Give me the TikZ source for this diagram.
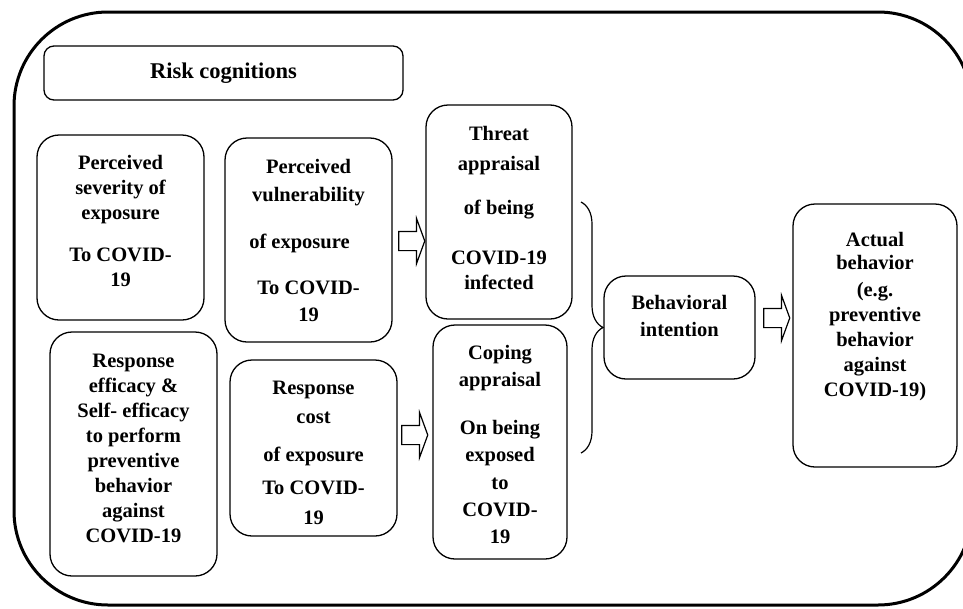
\documentclass[tikz,border=0pt]{standalone}
\usepackage{fontspec}
\setmainfont{Liberation Serif}
\usetikzlibrary{shapes.arrows,decorations.pathreplacing}
\tikzstyle{block} = [draw, rectangle, rounded corners=22pt, line width=1.3pt,
inner sep=0pt, align=center, font=\fontsize{20.5}{25}\selectfont\bfseries]
\tikzstyle{title} = [block, rounded corners=10pt,
font=\fontsize{22.5}{27}\selectfont\bfseries]
\tikzstyle{hollow} = [draw, single arrow, line width=1.2pt, inner xsep=0pt,
inner ysep=9pt, single arrow head extend=13pt, single arrow tip angle=140,
minimum height=26pt]
\tikzstyle{frame} = [line width=3pt, rounded corners=94pt]
\tikzstyle{bracket} = [decorate, decoration={brace, amplitude=22pt}, line width=1.2pt]
\newcommand{\padbelow}[1]{\rule[-#1]{0pt}{#1}}
\newcommand{\padabove}[1]{\rule{0pt}{#1}}

\begin{document}
\begin{tikzpicture}[x=1pt, y=-1pt]
	\useasboundingbox (0,0) rectangle (963,608);
	\clip (0,0) rectangle (963,608);
	% the outer frame round everything
	\draw [frame] (14,12) rectangle (972,605);
	
	% We start by placing the blocks
	\node [title, minimum width=359pt, minimum height=54pt] (risk) at (223.5,73) {Risk cognitions};
	\node [block, minimum width=167pt, minimum height=185pt] (severity) at (120.5,227.5)
	{Perceived\\severity of\\exposure\\[17pt]To COVID-\\19\padbelow{13pt}};
	\node [block, minimum width=167pt, minimum height=204pt] (vulnerability) at (308.5,240)
	{Perceived\\[3pt]vulnerability\\[22pt]of exposure\rule{18pt}{0pt}\\[21pt]To COVID-\\[2pt]19};
	\node [block, minimum width=167pt, minimum height=244pt] (efficacy) at (133.5,454)
	{Response\\efficacy \&\\Self- efficacy\\to perform\\preventive\\behavior\\against\\COVID-19\padbelow{12pt}};
	\node [block, minimum width=167pt, minimum height=176pt] (cost) at (313.5,448)
	{\padabove{24pt}Response\\[4pt]cost\\[13pt]of exposure\\[8pt]To COVID-\\[5pt]19};
	\node [block, minimum width=146pt, minimum height=214pt] (threat) at (499,212)
	{Threat\\[5pt]appraisal\\[19pt]of being\\[25pt]COVID-19\\infected\padbelow{9pt}};
	\node [block, minimum width=134pt, minimum height=234pt] (coping) at (500,442)
	{\padabove{20pt}Coping\\[2pt]appraisal\\[23pt]On being\\[2pt]exposed\\[3pt]to\\[2pt]COVID-\\[2pt]19};
	\node [block, minimum width=151pt, minimum height=103pt] (intention) at (679.5,327.5)
	{Behavioral\\[2pt]intention\padbelow{24pt}};
	\node [block, minimum width=164pt, minimum height=263pt] (actual) at (875,335.5)
	{Actual\\[-2pt]behavior\\[2pt](e.g.\\preventive\\behavior\\against\\COVID-19)\padbelow{42pt}};
	
	% the hollow arrows between the blocks
	\node [hollow] (tothreat) at (410,241) {};
	\node [hollow] (tocoping) at (413,435) {};
	\node [hollow] (toactual) at (775,318) {};
	
	% the brace joins both appraisals to the intention
	\coordinate (bracetop) at (581,202);
	\coordinate (bracebottom) at (581,453);
	\draw [bracket] (bracetop) -- (bracebottom);
\end{tikzpicture}
\end{document}
